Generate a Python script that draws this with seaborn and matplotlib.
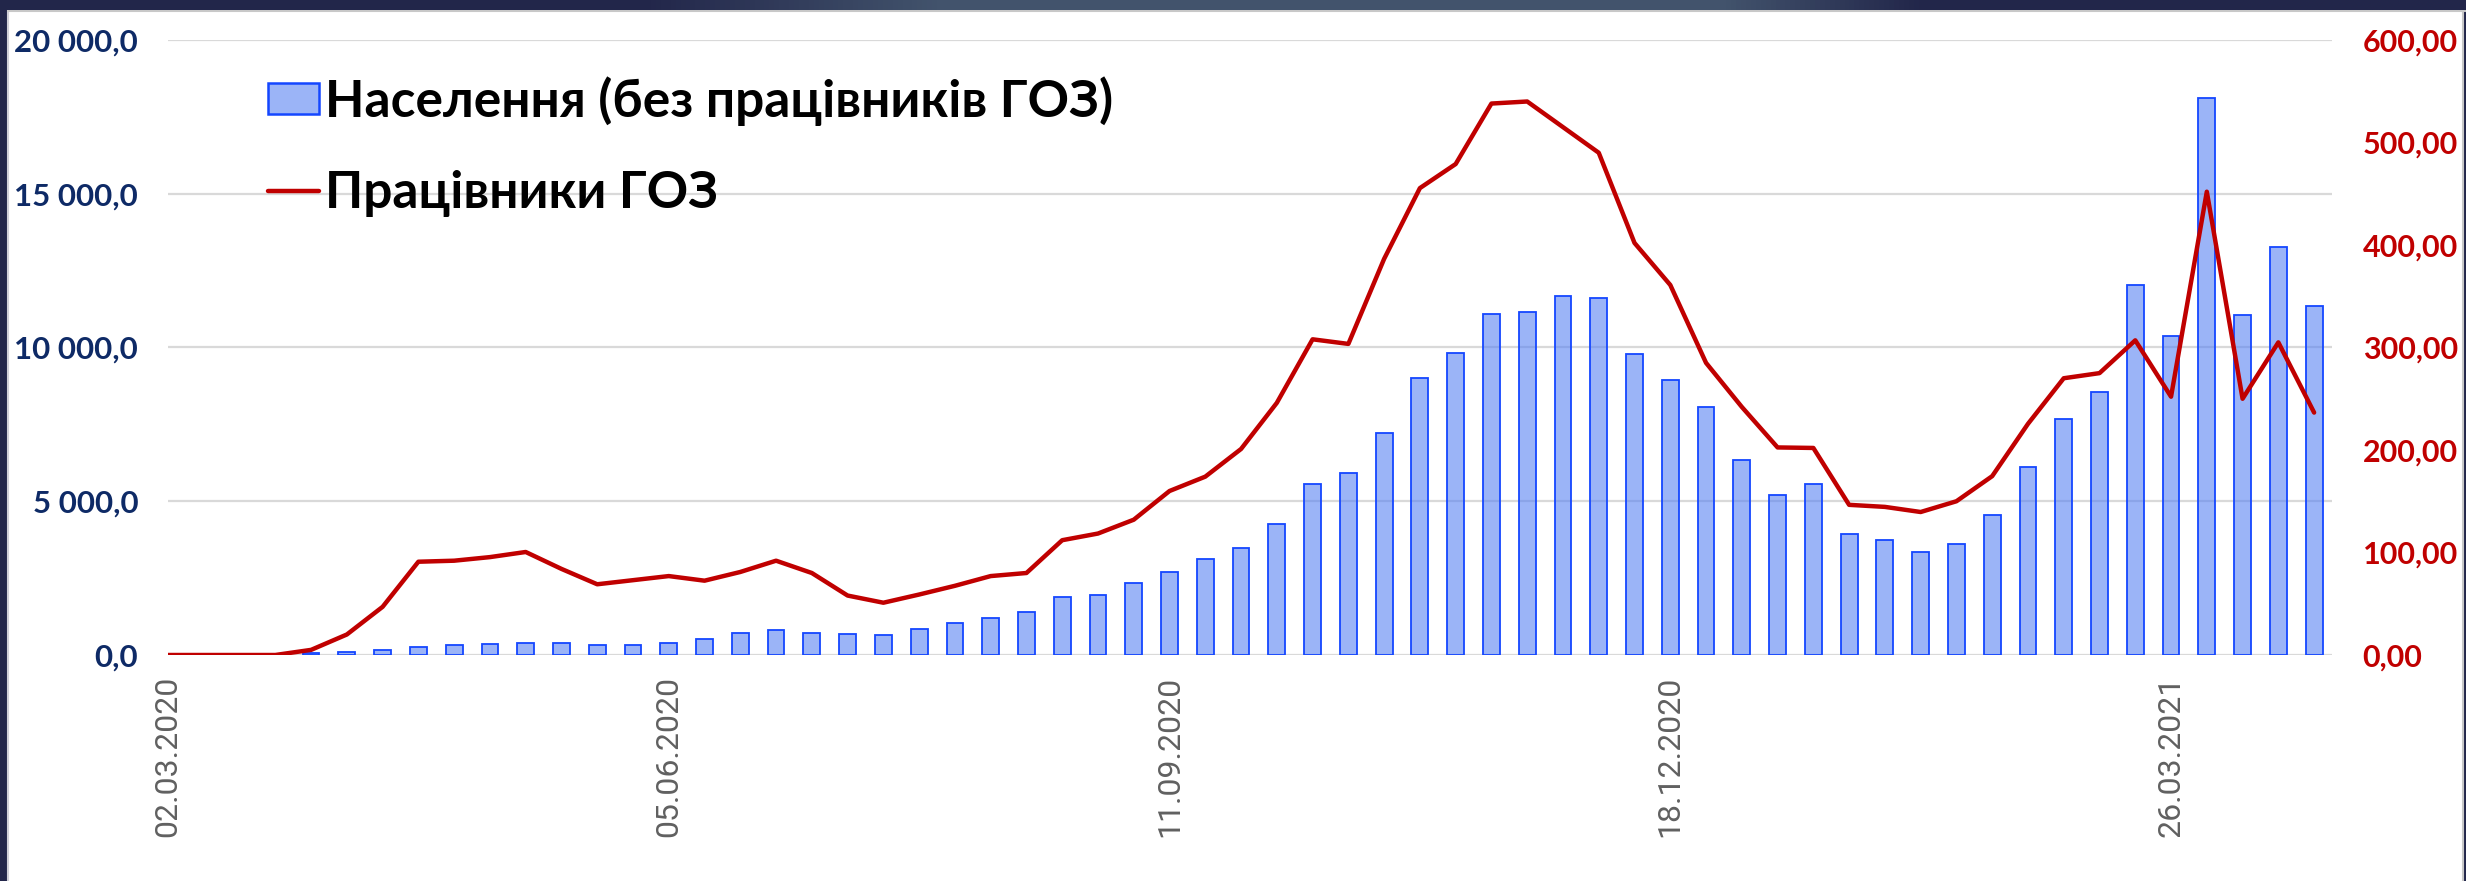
import numpy as np
import pandas as pd
import matplotlib
matplotlib.use("Agg")
import matplotlib.pyplot as plt
from matplotlib.patches import Patch, Rectangle
from matplotlib.lines import Line2D
import seaborn as sns

# ---------------- data ----------------
first_label = "02.03.2020"
week_dates = pd.date_range("2020-03-06", periods=60, freq="7D")
categories = [first_label] + [d.strftime("%d.%m.%Y") for d in week_dates]

population = [0, 0, 0, 0, 50, 90, 165, 275, 330, 350, 385, 385, 310, 310, 400, 530,
              715, 820, 715, 680, 660, 840, 1025, 1190, 1410, 1885, 1960, 2340, 2710,
              3130, 3480, 4245, 5565, 5930, 7210, 9000, 9810, 11090, 11145, 11675,
              11620, 9790, 8950, 8050, 6350, 5215, 5545, 3935, 3750, 3350, 3605, 4540,
              6110, 7685, 8545, 12025, 10375, 18100, 11050, 13280, 11345]

health_workers = [0, 0, 0, 0, 5, 20, 47, 91, 92, 95.5, 100.5, 84, 69, 73, 77, 72.5,
                  81, 92, 80, 58, 51, 59, 67.5, 77, 80, 112, 118.5, 132, 160, 174, 201,
                  246, 308, 303.5, 386.5, 455.5, 479, 538, 540, 515, 490, 402, 361, 285,
                  242, 202.5, 202, 146.5, 144.5, 139.5, 150, 174.5, 225.5, 270, 275, 307,
                  252, 452, 250, 305, 236.5]

shown_labels = ["02.03.2020", "05.06.2020", "11.09.2020", "18.12.2020", "26.03.2021"]
left_ticks = [0, 5000, 10000, 15000, 20000]
right_ticks = [0, 100, 200, 300, 400, 500, 600]

legend_pop = "Населення (без працівників ГОЗ)"
legend_hw = "Працівники ГОЗ"

# ---------------- style ----------------
sns.set_theme(style="white")
plt.rcParams["font.family"] = ["Lato", "DejaVu Sans"]

W, H = 2466, 881
fig = plt.figure(figsize=(W / 100, H / 100), dpi=100)
fig.patch.set_facecolor("#22264a")

# white slide area
fig.add_artist(Rectangle((8 / W, 0), (W - 10) / W, (H - 10) / H, transform=fig.transFigure,
                         facecolor="white", edgecolor="none", zorder=-5))
fig.add_artist(Line2D([8 / W, 8 / W], [0, (H - 10) / H], transform=fig.transFigure,
                      color="#d0d0d8", lw=1.5, zorder=-4))
fig.add_artist(Line2D([(W - 3) / W, (W - 3) / W], [0, (H - 10) / H], transform=fig.transFigure,
                      color="#c8c8c8", lw=1.5, zorder=-4))
fig.add_artist(Line2D([8 / W, 1], [(H - 11) / H, (H - 11) / H], transform=fig.transFigure,
                      color="#c8c8c8", lw=1.5, zorder=-4))
# top gradient band
gax = fig.add_axes([0, (H - 10) / H, 1, 10 / H])
xs = np.linspace(0, 1, 500)
dark = np.array([0x22, 0x26, 0x4a]) / 255
light = np.array([0x42, 0x53, 0x6c]) / 255
wgt = np.clip(np.minimum((xs - 0.26) / 0.12, (0.78 - xs) / 0.08), 0, 1)
grad = dark[None, :] * (1 - wgt[:, None]) + light[None, :] * wgt[:, None]
gax.imshow(grad[None, :, :], aspect="auto", extent=(0, 1, 0, 1))
gax.set_axis_off()

left, right = 168 / W, 2332 / W
bottom, top = (H - 655) / H, (H - 40) / H
ax = fig.add_axes([left, bottom, right - left, top - bottom])
ax.set_facecolor("none")

bar_face = (0.345, 0.51, 0.953, 0.6)
bar_edge = "#1446ff"
df = pd.DataFrame({"date": categories, "pop": population, "hw": health_workers,
                   "pos": np.arange(len(categories))})
sns.barplot(data=df, x="date", y="pop", ax=ax, width=0.47, color="#5882f3",
            saturation=1, edgecolor=bar_edge, linewidth=1.3, order=categories)
for p in ax.patches:
    p.set_facecolor(bar_face)
    p.set_edgecolor(bar_edge)

ax.set_ylim(0, 20000)
ax.set_yticks(left_ticks)
ax.set_yticklabels([f"{v:,.1f}".replace(",", " ").replace(".", ",") for v in left_ticks],
                   fontsize=22.5, fontweight="bold", color="#0e2a66")
ax.grid(axis="y", color="#d9d9d9", lw=1.6)
ax.set_axisbelow(True)
for s in ax.spines.values():
    s.set_visible(False)
ax.tick_params(axis="both", length=0)
ax.tick_params(axis="y", pad=21.5)
pos_shown = [categories.index(l) for l in shown_labels]
ax.set_xticks(pos_shown)
ax.set_xticklabels(shown_labels, rotation=90, fontsize=23, color="#606060",
                   family=["Roboto", "DejaVu Sans"], fontweight="normal")
ax.tick_params(axis="x", pad=15)
ax.set_xlabel("")
ax.set_ylabel("")

ax2 = ax.twinx()
sns.lineplot(data=df, x="pos", y="hw", ax=ax2, color="#c00000", lw=3.2)
ax2.set_ylim(0, 600)
ax2.set_yticks(right_ticks)
ax2.set_yticklabels([f"{v:.2f}".replace(".", ",") for v in right_ticks],
                    fontsize=22, fontweight="bold", color="#c00000")
ax2.tick_params(axis="y", length=0, pad=22)
for s in ax2.spines.values():
    s.set_visible(False)
ax2.grid(False)
ax2.set_xlabel("")
ax2.set_ylabel("")
ax.set_xlim(0, len(categories) - 0.5)

handles = [Patch(facecolor=bar_face, edgecolor=bar_edge, linewidth=1.8),
           Line2D([], [], color="#c00000", lw=3.2)]
leg = ax2.legend(handles, [legend_pop, legend_hw], loc="upper left",
                 bbox_to_anchor=(268 / W, 1 - 76 / H), bbox_transform=fig.transFigure,
                 frameon=False, prop={"size": 37, "weight": "bold"},
                 handlelength=1.0, handleheight=0.53, handletextpad=0.1,
                 labelspacing=0.86, borderaxespad=0, borderpad=0)
for t in leg.get_texts():
    t.set_color("black")

fig.savefig("out.png", dpi=100, facecolor=fig.get_facecolor())
